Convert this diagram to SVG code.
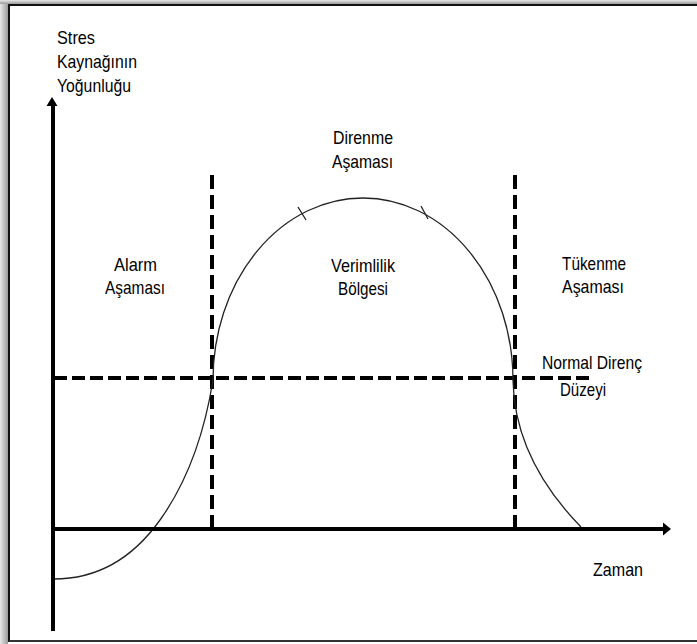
<svg xmlns="http://www.w3.org/2000/svg" width="697" height="644" viewBox="0 0 697 644">
<defs>
<linearGradient id="shL" x1="0" y1="0" x2="1" y2="0"><stop offset="0" stop-color="#e8e8e8"/><stop offset="1" stop-color="#9a9a9a"/></linearGradient>
<linearGradient id="shT" x1="0" y1="0" x2="0" y2="1"><stop offset="0" stop-color="#e8e8e8"/><stop offset="1" stop-color="#9a9a9a"/></linearGradient>
<style>
.t{font-family:"Liberation Sans",Arial,sans-serif;font-size:19px;fill:#000}
.ax{stroke:#000;stroke-width:4;fill:none}
.dash{stroke:#000;stroke-width:4;fill:none}
.cv{stroke:#222;stroke-width:1.3;fill:none}
</style>
</defs>
<rect x="0" y="0" width="697" height="644" fill="#fff"/>
<rect x="0" y="0" width="8" height="644" fill="url(#shL)"/>
<rect x="0" y="0" width="697" height="4" fill="url(#shT)"/>
<g id="frame" fill="none" stroke="#111" stroke-width="2">
<path d="M9,642 V5 H697"/>
<path d="M9,641 H697" stroke="#333"/>
</g>
<g id="connectors">
<path class="dash" d="M54,378 H590" stroke-dasharray="13 5"/>
<path class="dash" d="M212,175 V527" stroke-dasharray="14 6"/>
<path class="dash" d="M515,175 V527" stroke-dasharray="14 6"/>
<path class="cv" d="M54,579 C100,579 135,555 160,520 C190,478 205,430 213,380 A150,182 0 0 1 513,380 C514,440 545,490 581,527"/>
<path class="cv" d="M298,207 L306,220 M421,206 L428,219"/>
<path class="ax" d="M53,631 V104"/>
<path d="M52,97 L46.5,106 L57.5,106 Z" fill="#000"/>
<path class="ax" d="M52,529 H664"/>
<path d="M671,529 L663,522.5 L663,535.5 Z" fill="#000"/>
</g>
<g id="ylabel">
<text class="t" x="57" y="44" textLength="38" lengthAdjust="spacingAndGlyphs">Stres</text>
<text class="t" x="57" y="68" textLength="80" lengthAdjust="spacingAndGlyphs">Kaynağının</text>
<text class="t" x="57" y="92" textLength="74" lengthAdjust="spacingAndGlyphs">Yoğunluğu</text>
</g>
<g id="alarm">
<text class="t" x="114" y="271" textLength="43" lengthAdjust="spacingAndGlyphs">Alarm</text>
<text class="t" x="105" y="294" textLength="60" lengthAdjust="spacingAndGlyphs">Aşaması</text>
</g>
<g id="direnme">
<text class="t" x="333" y="144" textLength="60" lengthAdjust="spacingAndGlyphs">Direnme</text>
<text class="t" x="332" y="168" textLength="61" lengthAdjust="spacingAndGlyphs">Aşaması</text>
</g>
<g id="verimlilik">
<text class="t" x="331" y="272" textLength="64" lengthAdjust="spacingAndGlyphs">Verimlilik</text>
<text class="t" x="338" y="295" textLength="50" lengthAdjust="spacingAndGlyphs">Bölgesi</text>
</g>
<g id="tukenme">
<text class="t" x="562" y="270" textLength="64" lengthAdjust="spacingAndGlyphs">Tükenme</text>
<text class="t" x="562" y="293" textLength="62" lengthAdjust="spacingAndGlyphs">Aşaması</text>
</g>
<g id="normal">
<text class="t" x="542" y="369" textLength="100" lengthAdjust="spacingAndGlyphs">Normal Direnç</text>
<text class="t" x="560" y="396" textLength="46" lengthAdjust="spacingAndGlyphs">Düzeyi</text>
</g>
<g id="zaman">
<text class="t" x="593" y="576" textLength="50" lengthAdjust="spacingAndGlyphs">Zaman</text>
</g>
</svg>
